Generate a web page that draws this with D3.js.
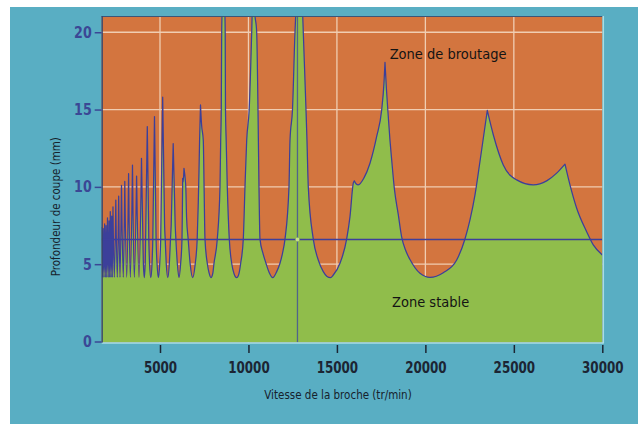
<!DOCTYPE html>
<html>
<head>
<meta charset="utf-8">
<script src="https://cdn.jsdelivr.net/npm/d3@7"></script>
<style>
  body { margin: 0; background: #fff; }
  svg { display: block; }
  .tick-y text { font-family: "DejaVu Sans Condensed", "DejaVu Sans", sans-serif; font-weight: bold; font-size: 16px; fill: #3b4795; }
  .tick-x text { font-family: "DejaVu Sans Condensed", "DejaVu Sans", sans-serif; font-weight: bold; font-size: 16px; fill: #1c2533; }
  .title { font-family: "DejaVu Sans Condensed", "DejaVu Sans", sans-serif; font-size: 11.5px; fill: #16222c; }
  .zone { font-family: "DejaVu Sans Condensed", "DejaVu Sans", sans-serif; font-size: 14.5px; fill: #141414; }
</style>
</head>
<body>
<svg id="chart" width="638" height="424"></svg>
<script>
// tick values
const xTicks = [5000, 10000, 15000, 20000, 25000, 30000];
const yTicks = [0, 5, 10, 15, 20];

// stability limit [speed tr/min, depth mm]
const lobesLow = [
  [1705, 7.4], [1750, 4.15], [1790, 7.3], [1830, 4.15], [1870, 7.6], [1910, 4.15],
  [1950, 7.5], [1990, 4.15], [2032, 8.0], [2075, 4.15], [2117, 7.8], [2155, 4.15],
  [2191, 8.4], [2230, 4.15], [2270, 8.1], [2305, 4.15], [2343, 8.7], [2417, 4.15],
  [2502, 9.15], [2586, 4.15],
  [2665, 9.4], [2739, 4.15], [2824, 10.1], [2925, 4.15], [3010, 10.35], [3118, 4.15],
  [3225, 10.85], [3321, 4.15], [3445, 11.4], [3547, 4.15], [3677, 10.7], [3813, 4.15],
  [3954, 11.85], [4056, 5.2], [4112, 4.13], [4169, 5.2], [4282, 13.9],
  [4367, 6.6], [4412, 5.0], [4480, 4.13], [4548, 5.0], [4593, 6.6], [4689, 14.55],
  [4779, 6.6], [4836, 5.0], [4909, 4.13], [4983, 5.0], [5039, 6.6], [5152, 15.8]
];
const lobesMid = [
  [5260, 7.5], [5294, 6.6], [5356, 5.0], [5441, 4.13], [5525, 5.0], [5593, 6.6], [5633, 7.5],
  [5746, 12.8],
  [5859, 7.5], [5898, 6.6], [5983, 5.0], [6074, 4.13], [6164, 5.0], [6243, 6.6], [6266, 8.5],
  [6283, 10.55], [6311, 10.3], [6356, 11.2], [6430, 10.45], [6458, 10.0],
  [6503, 8.0], [6594, 6.6], [6707, 5.0], [6848, 4.13], [6989, 5.0], [7102, 6.6], [7165, 9.0],
  [7204, 11.0], [7238, 13.0], [7289, 15.3],
  [7351, 14.0], [7447, 13.0], [7492, 10.0], [7543, 6.62], [7673, 5.06], [7781, 4.4], [7882, 4.13],
  [7984, 4.4], [8052, 5.06], [8238, 6.62], [8391, 10.0], [8431, 13.0], [8464, 15.0], [8487, 20.0],
  [8515, 21.5], [8589, 26],
  [8662, 21.5], [8685, 20.0], [8702, 15.0], [8741, 13.0], [8804, 10.0], [8917, 6.62], [9052, 5.06],
  [9182, 4.4], [9335, 4.13], [9465, 4.4], [9561, 5.06], [9708, 6.62], [9804, 10.0], [9900, 13.0],
  [10041, 15.0], [10183, 20.0], [10217, 21.5], [10273, 26]
];
const lobesHigh = [
  [10341, 21.5], [10465, 20.0], [10539, 15.0], [10561, 13.0], [10595, 10.0], [10652, 6.62],
  [10821, 5.7], [10991, 5.06], [11177, 4.45], [11370, 4.13], [11596, 4.52], [11782, 5.06],
  [11924, 5.7], [12065, 6.62], [12291, 10.0], [12348, 13.0], [12489, 15.0], [12630, 20.0],
  [12687, 21.5], [12873, 26],
  [13054, 21.5], [13099, 20.0], [13252, 15.0], [13308, 13.0], [13382, 10.0], [13664, 6.62],
  [13947, 5.27], [14229, 4.52], [14439, 4.21], [14636, 4.13], [14795, 4.3], [15173, 5.06],
  [15552, 6.63], [15739, 8.08], [15925, 10.24], [15982, 10.39], [16078, 10.2], [16208, 10.13],
  [16530, 10.58], [16869, 11.53], [17248, 13.26], [17530, 14.98], [17660, 16.71], [17717, 18.05],
  [17800, 16.3], [17903, 14.55], [18000, 13.0], [18095, 11.75], [18250, 9.85], [18469, 8.2],
  [18661, 6.75], [18900, 5.85], [19130, 5.3],
  [19695, 4.41], [20260, 4.15], [21012, 4.45], [21769, 5.27], [22238, 6.63], [22521, 7.86],
  [22804, 9.48], [23086, 11.64], [23499, 14.94], [23838, 13.37], [24403, 11.42], [25160, 10.45],
  [26099, 10.13], [26856, 10.39], [27421, 10.89], [27891, 11.47], [28173, 10.13], [28552, 8.62],
  [29117, 7.1], [29490, 6.25], [30000, 5.6]
];

const limitDepth = 6.6;      // horizontal line (mm)
const markerSpeed = 12770;   // vertical line (tr/min)

const labelTop = 'Zone de broutage';
const labelBottom = 'Zone stable';
const xTitle = 'Vitesse de la broche (tr/min)';
const yTitle = 'Profondeur de coupe (mm)';

const curve = lobesLow.concat(lobesMid, lobesHigh);

const svg = d3.select('#chart');

// outer panel
svg.append('rect')
  .attr('x', 10).attr('y', 7).attr('width', 628).attr('height', 417)
  .attr('fill', '#59aec3');

const x = d3.scaleLinear().domain([1705, 30000]).range([101.7, 602.3]);
const y = d3.scaleLinear().domain([0, 21.05]).range([341.5, 16]);

const pLeft = x.range()[0], pRight = x.range()[1];
const pTop = y.range()[1], pBottom = 342.5;

svg.append('defs').append('clipPath').attr('id', 'plot-clip')
  .append('rect')
  .attr('x', pLeft).attr('y', pTop).attr('width', pRight - pLeft).attr('height', pBottom - pTop);

// unstable background
svg.append('rect')
  .attr('x', pLeft).attr('y', pTop).attr('width', pRight - pLeft).attr('height', pBottom - pTop)
  .attr('fill', '#d3753f');

// grid (only visible over the orange zone)
const grid = svg.append('g').attr('stroke', '#f0cdb2').attr('stroke-width', 1.3);
grid.selectAll('.gx').data(xTicks.slice(0, -1)).join('line')
  .attr('x1', d => x(d)).attr('x2', d => x(d))
  .attr('y1', pTop).attr('y2', pBottom);
grid.selectAll('.gy').data(yTicks.slice(1)).join('line')
  .attr('x1', pLeft).attr('x2', pRight)
  .attr('y1', d => y(d)).attr('y2', d => y(d));

// split the limit into lobes at the cusps so each lobe is smoothed on its own
const segments = [];
let seg = [curve[0]];
for (let i = 1; i < curve.length; i++) {
  seg.push(curve[i]);
  const cusp = i < curve.length - 1 && curve[i][1] > curve[i - 1][1] && curve[i][1] > curve[i + 1][1];
  if (cusp) { segments.push(seg); seg = [curve[i]]; }
}
segments.push(seg);

const lobeLine = d3.line()
  .x(d => x(d[0]))
  .y(d => y(d[1]))
  .curve(d3.curveMonotoneX);

const outline = segments.map((s, i) => {
  const p = lobeLine(s);
  return i ? 'L' + p.slice(1) : p;
}).join('');

const first = curve[0], last = curve[curve.length - 1];
const areaPath = outline + `L${x(last[0])},${pBottom}L${x(first[0])},${pBottom}Z`;

const plot = svg.append('g').attr('clip-path', 'url(#plot-clip)');

plot.append('path')
  .attr('fill', '#90bd4b')
  .attr('d', areaPath);

plot.append('path')
  .attr('fill', 'none')
  .attr('stroke', '#3c3f9a')
  .attr('stroke-width', 1.25)
  .attr('stroke-linejoin', 'round')
  .attr('d', outline);

// limit line + marker
plot.append('line')
  .attr('x1', pLeft).attr('x2', pRight)
  .attr('y1', y(limitDepth)).attr('y2', y(limitDepth))
  .attr('stroke', '#3d3f9c').attr('stroke-width', 1.5);

plot.append('line')
  .attr('x1', x(markerSpeed)).attr('x2', x(markerSpeed))
  .attr('y1', pTop).attr('y2', pBottom)
  .attr('stroke', '#50648a').attr('stroke-width', 1.3);

plot.append('circle')
  .attr('cx', x(markerSpeed)).attr('cy', y(limitDepth)).attr('r', 2)
  .attr('fill', '#c3df86');

// frame
svg.append('line').attr('x1', pLeft).attr('x2', pRight).attr('y1', pTop + 0.5).attr('y2', pTop + 0.5)
  .attr('stroke', '#3b5578').attr('stroke-width', 1);
svg.append('line').attr('x1', pLeft).attr('x2', pRight + 1).attr('y1', pBottom + 0.5).attr('y2', pBottom + 0.5)
  .attr('stroke', '#a9dde4').attr('stroke-width', 1.5);
svg.append('line').attr('x1', pRight + 1).attr('x2', pRight + 1).attr('y1', pTop).attr('y2', pBottom + 1)
  .attr('stroke', '#a9dde4').attr('stroke-width', 1.5);

// axes
const yAxis = svg.append('g')
  .attr('class', 'tick-y')
  .attr('transform', `translate(${pLeft},0)`)
  .call(d3.axisLeft(y).tickValues(yTicks).tickFormat(d3.format('d'))
    .tickSize(7).tickSizeOuter(0).tickPadding(3));
yAxis.select('.domain').attr('stroke', '#34466e').attr('stroke-width', 1.3)
  .attr('d', `M0.5,${pTop}V${pBottom}`);
yAxis.selectAll('.tick line').attr('stroke', '#3b4795').attr('stroke-width', 1.5);
yAxis.selectAll('.tick text')
  .attr('textLength', d => String(d).length * 8.8)
  .attr('lengthAdjust', 'spacingAndGlyphs');

const xAxis = svg.append('g')
  .attr('class', 'tick-x')
  .attr('transform', `translate(0,345)`)
  .call(d3.axisBottom(x).tickValues(xTicks).tickFormat(d3.format('d'))
    .tickSize(8).tickSizeOuter(0).tickPadding(9));
xAxis.select('.domain').remove();
xAxis.selectAll('.tick line').attr('stroke', '#1c2533').attr('stroke-width', 1.5);
xAxis.selectAll('.tick text')
  .attr('textLength', d => String(d).length * 8.3)
  .attr('lengthAdjust', 'spacingAndGlyphs');

// titles
svg.append('text').attr('class', 'title')
  .attr('x', 338).attr('y', 399.3).attr('text-anchor', 'middle')
  .text(xTitle);
svg.append('text').attr('class', 'title')
  .attr('transform', 'translate(59.5,206.7) rotate(-90)')
  .attr('text-anchor', 'middle')
  .text(yTitle);

svg.append('text').attr('class', 'zone')
  .attr('x', 389.7).attr('y', 59.3)
  .text(labelTop);
svg.append('text').attr('class', 'zone')
  .attr('x', 392).attr('y', 307.3)
  .text(labelBottom);
</script>
</body>
</html>
